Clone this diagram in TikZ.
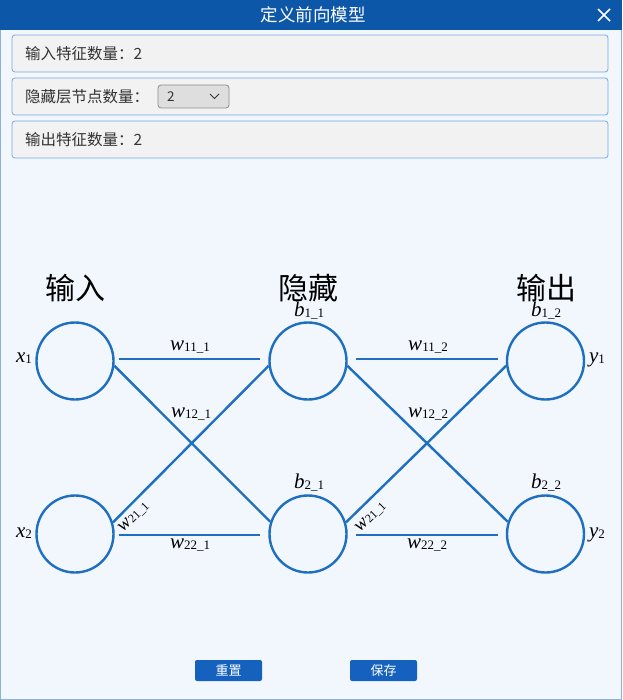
\documentclass[tikz,border=0pt]{standalone}
\usepackage{fontspec}
\setmainfont{Noto Sans CJK SC}
\newfontfamily\lblfont{Liberation Serif}
\definecolor{titlebar}{HTML}{0D57A9}
\definecolor{winbg}{HTML}{F2F7FE}
\definecolor{panelbg}{HTML}{F2F2F2}
\definecolor{panelbd}{HTML}{78A8E6}
\definecolor{netblue}{HTML}{1F6FC1}
\definecolor{btnblue}{HTML}{1561BE}
\definecolor{txtgray}{HTML}{333333}
\definecolor{winbd}{HTML}{8DB2DA}
\newcommand\wlab[2]{{\lblfont\fontsize{21}{21}\selectfont\itshape #1}{\lblfont\fontsize{13}{13}\selectfont\raisebox{-1pt}{#2}}}
\newcommand\wlabsm[2]{{\lblfont\fontsize{19}{19}\selectfont\itshape #1}{\lblfont\fontsize{12}{12}\selectfont\raisebox{-1pt}{#2}}}
\tikzset{
  neuron/.style={circle, draw=netblue, line width=2.4pt, minimum size=77pt, inner sep=0pt},
  conn/.style={draw=netblue, line width=2.4pt},
  panel/.style={draw=panelbd, fill=panelbg, rounded corners=3pt, line width=0.8pt},
  paneltxt/.style={anchor=west, text=txtgray, font=\fontsize{15.5}{15.5}\selectfont, inner sep=0pt},
  layerhead/.style={font=\fontsize{30}{30}\selectfont, text=black, inner sep=0pt},
  wl/.style={inner sep=0pt, text=black},
  btn/.style={fill=btnblue, rounded corners=2pt, minimum width=67pt, minimum height=21pt, inner sep=0pt, text=white, font=\fontsize{13}{13}\selectfont}
}
\begin{document}
\begin{tikzpicture}[x=1pt,y=-1pt]
\useasboundingbox (0,0) rectangle (622,700);
% window
\fill[winbg] (0,0) rectangle (622,700);
\draw[winbd, line width=1pt] (0.5,0.5) rectangle (621.5,699.5);
\fill[titlebar] (0,0) rectangle (622,30);
\node[text=white, font=\fontsize{17.5}{17.5}\selectfont, inner sep=0pt] (title) at (313,15) {定义前向模型};
\coordinate (xa) at (598,9); \coordinate (xb) at (610,21);
\coordinate (xc) at (598,21); \coordinate (xd) at (610,9);
\draw[white, line width=1.6pt] (xa) -- (xb) (xc) -- (xd);
% panels
\draw[panel] (12,35) rectangle (608,72);
\node[paneltxt] (p1) at (25,53.5) {输入特征数量：2};
\draw[panel] (12,78) rectangle (608,115);
\node[paneltxt] (p2) at (25,96.5) {隐藏层节点数量：};
\draw[draw=black!45, fill=black!13, rounded corners=3pt, line width=0.8pt] (158,85) rectangle (229,108);
\node[paneltxt, font=\fontsize{13.5}{13.5}\selectfont] (combo) at (167,96.5) {2};
\coordinate (ca) at (210,94); \coordinate (cb) at (214.5,98.5); \coordinate (cc) at (219,94);
\draw[txtgray, line width=1pt] (ca) -- (cb) -- (cc);
\draw[panel] (12,121) rectangle (608,158);
\node[paneltxt] (p3) at (25,139.5) {输出特征数量：2};
% layer headers
\node[layerhead] (hin) at (75,288) {输入};
\node[layerhead] (hhid) at (308,288) {隐藏};
\node[layerhead] (hout) at (546,288) {输出};
% neurons
\node[neuron] (x1) at (75,361) {};
\node[neuron] (x2) at (75,534) {};
\node[neuron] (h1) at (308,361) {};
\node[neuron] (h2) at (308,534) {};
\node[neuron] (o1) at (545.5,361) {};
\node[neuron] (o2) at (545.5,534) {};
% connectors
\draw[conn] ([xshift=4pt,yshift=2pt]x1.east) -- ([xshift=-8pt,yshift=2pt]h1.west);
\draw[conn] ([xshift=4pt,yshift=-1pt]x2.east) -- ([xshift=-8pt,yshift=-1pt]h2.west);
\draw[conn] ([xshift=8pt,yshift=2pt]h1.east) -- ([xshift=-8pt,yshift=2pt]o1.west);
\draw[conn] ([xshift=8pt,yshift=-1pt]h2.east) -- ([xshift=-8pt,yshift=-1pt]o2.west);
\draw[conn] (x1.-7.5) -- (h2.162.5);
\draw[conn] (x2.17.5) -- (h1.187.5);
\draw[conn] (h1.-7.5) -- (o2.162.5);
\draw[conn] (h2.17.5) -- (o1.187.5);
% weight labels
\node[wl] (w111) at (190,347) {\wlab{w}{11\_1}};
\node[wl] (w121) at (191,414) {\wlab{w}{12\_1}};
\node[wl, rotate=45] (w211) at (134,517) {\wlabsm{w}{21\_1}};
\node[wl] (w221) at (190,545) {\wlab{w}{22\_1}};
\node[wl] (w112) at (428,347) {\wlab{w}{11\_2}};
\node[wl] (w122) at (428,414) {\wlab{w}{12\_2}};
\node[wl, rotate=45] (w212) at (371,517) {\wlabsm{w}{21\_1}};
\node[wl] (w222) at (427,545) {\wlab{w}{22\_2}};
% bias labels
\node[wl] (b11) at (309,311) {\wlab{b}{1\_1}};
\node[wl] (b12) at (546,311) {\wlab{b}{1\_2}};
\node[wl] (b21) at (309,483) {\wlab{b}{2\_1}};
\node[wl] (b22) at (546,483) {\wlab{b}{2\_2}};
% input/output labels
\node[wl] (lx1) at (24,358) {\wlab{x}{1}};
\node[wl] (lx2) at (24,533) {\wlab{x}{2}};
\node[wl] (ly1) at (597,360) {\wlab{y}{1}};
\node[wl] (ly2) at (597,535) {\wlab{y}{2}};
% buttons
\node[btn] (reset) at (228.5,670.5) {重置};
\node[btn] (save) at (383.5,670.5) {保存};
\end{tikzpicture}
\end{document}
